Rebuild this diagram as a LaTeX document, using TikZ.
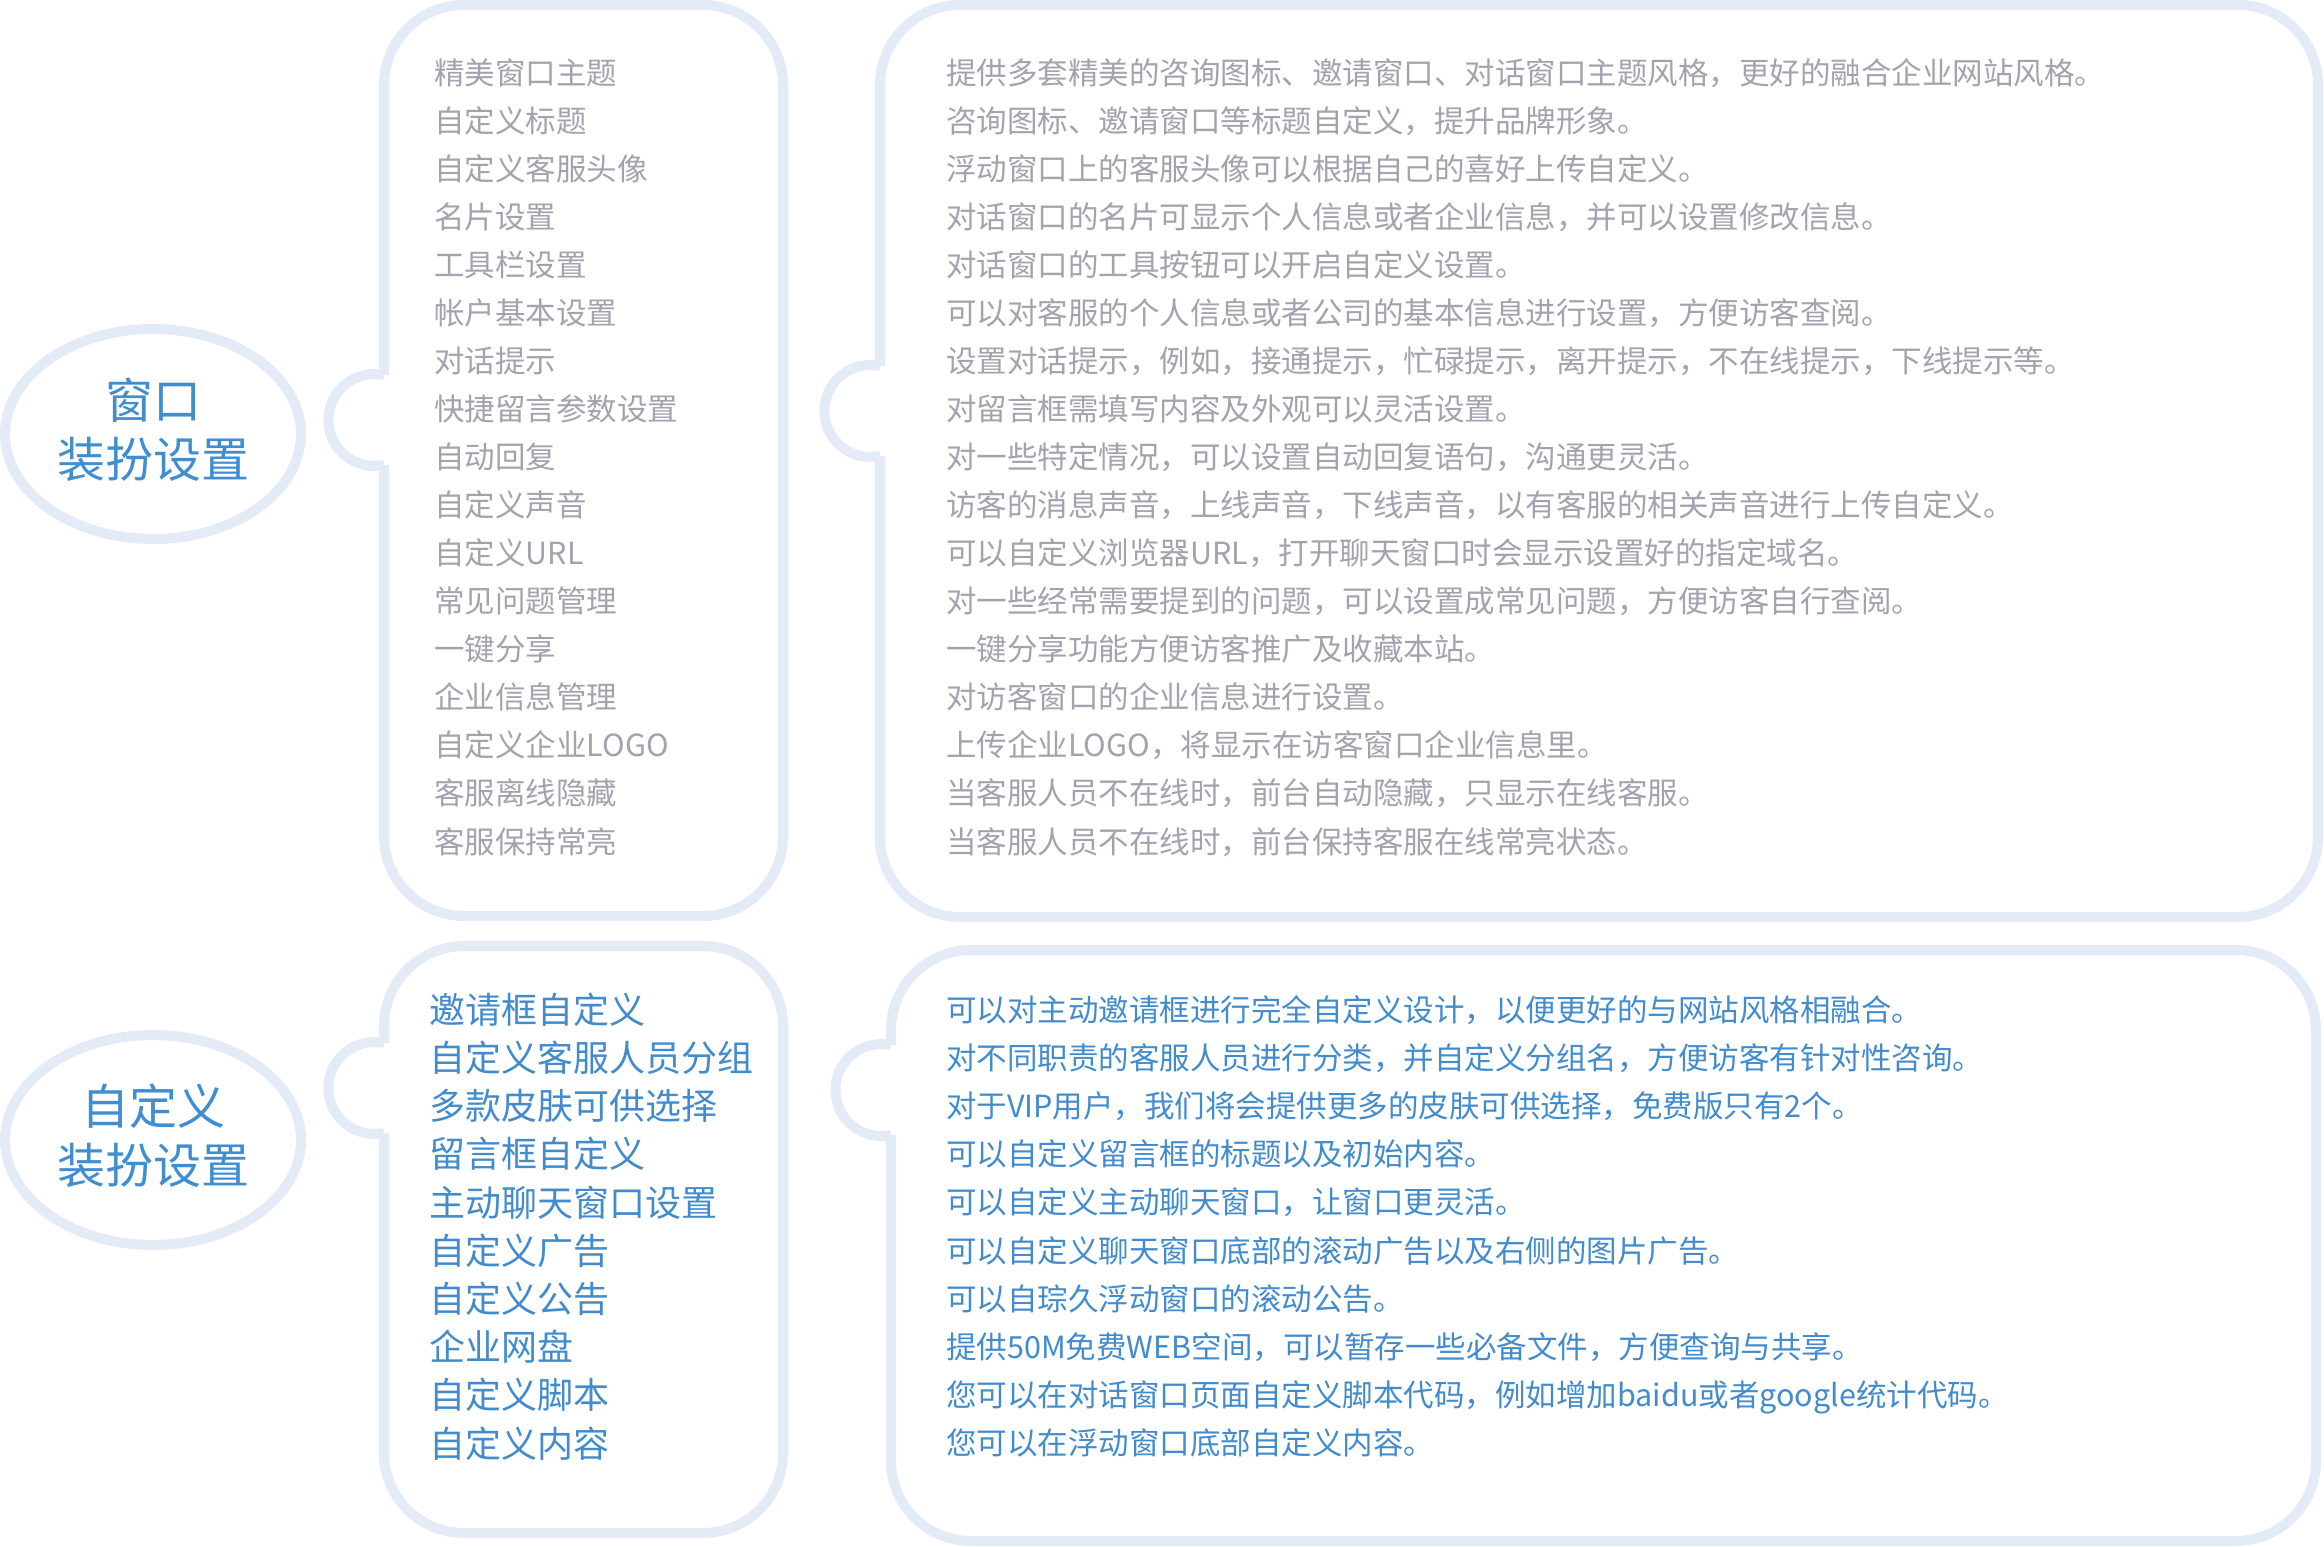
\documentclass[tikz,border=0pt]{standalone}
\usepackage{fontspec}
\newfontfamily\cjk{Noto Sans CJK SC}
\definecolor{ringblue}{HTML}{E3EBF7}
\definecolor{itemgray}{HTML}{A3A3AF}
\definecolor{itemblue}{HTML}{428CCD}
\definecolor{titleblue}{HTML}{3E8ED1}

\begin{document}
\begin{tikzpicture}[x=1pt, y=-1pt,
        panel/.style={draw=ringblue, line width=10pt, fill=white},
        title/.style={font=\cjk\fontsize{48}{59}\selectfont, text=titleblue, align=center},
        grayitem/.style={font=\cjk\fontsize{30.5}{36}\selectfont, text=itemgray, anchor=west,
            inner sep=0pt, text height=26.8pt, text depth=3.7pt},
        blueitem/.style={grayitem, text=itemblue},
        bigitem/.style={blueitem, font=\cjk\fontsize{36}{42}\selectfont, text height=31.7pt, text depth=4.3pt}]
        \useasboundingbox (0,0) rectangle (2324,1547);

        % Upper row: window skins
        \draw[panel] (153,434) ellipse [x radius=148, y radius=105];
        \draw[panel, rounded corners=80] (384,375) -- (384,5) -- (783,5) -- (783,916) -- (384,916) -- (384,465);
        \draw[panel] (384,375) .. controls (355.4,368.9) and (328.4,390.7) .. (328.4,420)
            .. controls (328.4,449.3) and (355.4,471.1) .. (384,465);
        \draw[panel, rounded corners=80] (880,366) -- (880,5) -- (2318,5) -- (2318,917) -- (880,917) -- (880,456);
        \draw[panel] (880,366) .. controls (851.4,359.9) and (824.4,381.7) .. (824.4,411)
            .. controls (824.4,440.3) and (851.4,462.1) .. (880,456);

        % Lower row: custom skins
        \draw[panel] (153,1140) ellipse [x radius=148, y radius=105];
        \draw[panel, rounded corners=80] (384,1043) -- (384,946) -- (783,946) -- (783,1533) -- (384,1533) -- (384,1133);
        \draw[panel] (384,1043) .. controls (355.4,1036.9) and (328.4,1058.7) .. (328.4,1088)
            .. controls (328.4,1117.3) and (355.4,1139.1) .. (384,1133);
        \draw[panel, rounded corners=80] (891,1045) -- (891,950) -- (2316,950) -- (2316,1541) -- (891,1541) -- (891,1135);
        \draw[panel] (891,1045) .. controls (862.4,1038.9) and (835.4,1060.7) .. (835.4,1090)
            .. controls (835.4,1119.3) and (862.4,1141.1) .. (891,1135);

        % Titles
        \node[title] (winTitle) at (153,430) {窗口\\装扮设置};
        \node[title] (cusTitle) at (153,1136) {自定义\\装扮设置};

        % Upper lists
        \foreach \t [count=\i] in {精美窗口主题, 自定义标题, 自定义客服头像, 名片设置, 工具栏设置,
            帐户基本设置, 对话提示, 快捷留言参数设置, 自动回复, 自定义声音, 自定义URL,
            常见问题管理, 一键分享, 企业信息管理, 自定义企业LOGO, 客服离线隐藏, 客服保持常亮}
            \node[grayitem] (winItem\i) at (434,{72.5+48.06*(\i-1)}) {\t};
        \foreach \t [count=\i] in {
            提供多套精美的咨询图标、邀请窗口、对话窗口主题风格，更好的融合企业网站风格。,
            咨询图标、邀请窗口等标题自定义，提升品牌形象。,
            浮动窗口上的客服头像可以根据自己的喜好上传自定义。,
            对话窗口的名片可显示个人信息或者企业信息，并可以设置修改信息。,
            对话窗口的工具按钮可以开启自定义设置。,
            可以对客服的个人信息或者公司的基本信息进行设置，方便访客查阅。,
            设置对话提示，例如，接通提示，忙碌提示，离开提示，不在线提示，下线提示等。,
            对留言框需填写内容及外观可以灵活设置。,
            对一些特定情况，可以设置自动回复语句，沟通更灵活。,
            访客的消息声音，上线声音，下线声音，以有客服的相关声音进行上传自定义。,
            可以自定义浏览器URL，打开聊天窗口时会显示设置好的指定域名。,
            对一些经常需要提到的问题，可以设置成常见问题，方便访客自行查阅。,
            一键分享功能方便访客推广及收藏本站。,
            对访客窗口的企业信息进行设置。,
            上传企业LOGO，将显示在访客窗口企业信息里。,
            当客服人员不在线时，前台自动隐藏，只显示在线客服。,
            当客服人员不在线时，前台保持客服在线常亮状态。}
            \node[grayitem] (winDesc\i) at (946,{72.5+48.06*(\i-1)}) {\t};

        % Lower lists
        \foreach \t [count=\i] in {邀请框自定义, 自定义客服人员分组, 多款皮肤可供选择, 留言框自定义,
            主动聊天窗口设置, 自定义广告, 自定义公告, 企业网盘, 自定义脚本, 自定义内容}
            \node[bigitem] (cusItem\i) at (429,{1009.5+48.2*(\i-1)}) {\t};
        \foreach \t [count=\i] in {
            可以对主动邀请框进行完全自定义设计，以便更好的与网站风格相融合。,
            对不同职责的客服人员进行分类，并自定义分组名，方便访客有针对性咨询。,
            对于VIP用户，我们将会提供更多的皮肤可供选择，免费版只有2个。,
            可以自定义留言框的标题以及初始内容。,
            可以自定义主动聊天窗口，让窗口更灵活。,
            可以自定义聊天窗口底部的滚动广告以及右侧的图片广告。,
            可以自琮久浮动窗口的滚动公告。,
            提供50M免费WEB空间，可以暂存一些必备文件，方便查询与共享。,
            您可以在对话窗口页面自定义脚本代码，例如增加baidu或者google统计代码。,
            您可以在浮动窗口底部自定义内容。}
            \node[blueitem] (cusDesc\i) at (946,{1009.5+48.2*(\i-1)}) {\t};
    \end{tikzpicture}
\end{document}
